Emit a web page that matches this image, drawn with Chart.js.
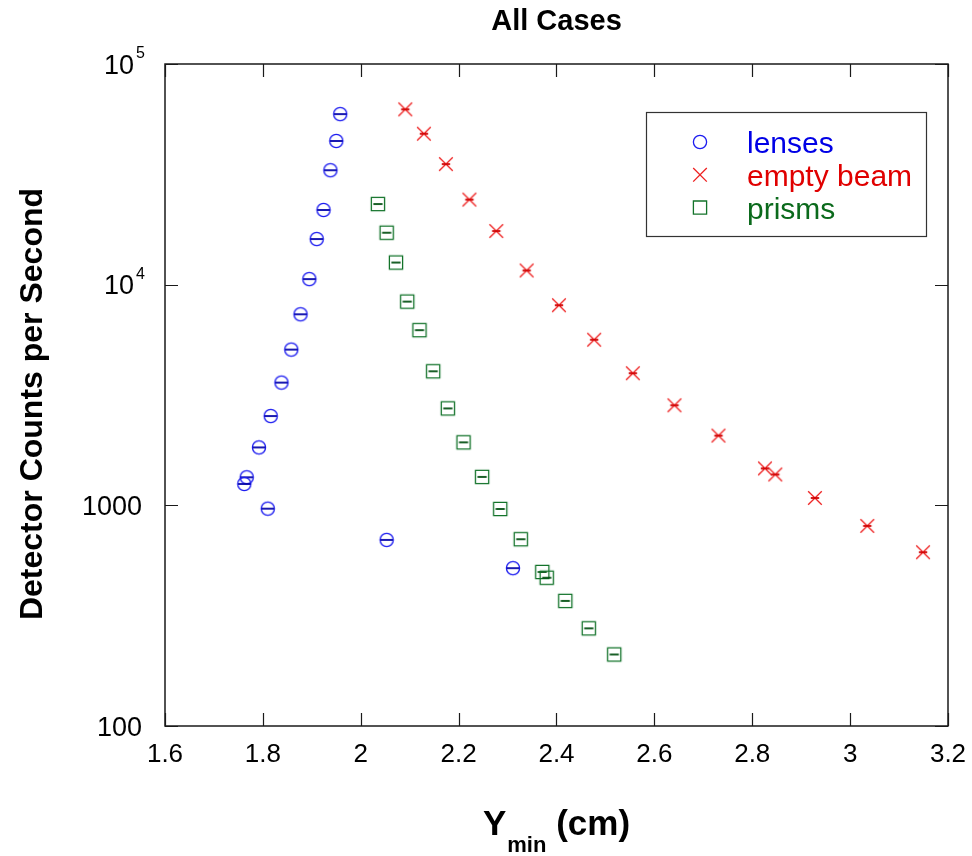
<!DOCTYPE html>
<html><head><meta charset="utf-8">
<script src="https://cdn.jsdelivr.net/npm/chart.js@4.4.1/dist/chart.umd.min.js"></script>
<style>html,body{margin:0;padding:0;background:#fff}#wrap{width:972px;height:856px}</style>
</head><body><div id="wrap"><canvas id="c" width="972" height="856"></canvas></div>
<script>
const chartTitle = 'All Cases';
const yAxisTitle = 'Detector Counts per Second';
const xAxisTitleMain = 'Y';
const xAxisTitleSub = 'min';
const xAxisTitleUnit = '(cm)';
const seriesNames = ['lenses', 'empty beam', 'prisms'];
const xTickValues = [1.6, 1.8, 2, 2.2, 2.4, 2.6, 2.8, 3, 3.2];
const yTickValues = [100, 1000, 10000, 100000];
const yTickBase = ['100', '1000', '10', '10'];
const yTickExp = ['', '', '4', '5'];

const lensesX = [1.958, 1.950, 1.938, 1.924, 1.910, 1.895, 1.877, 1.858, 1.838, 1.816, 1.792, 1.767, 1.762, 1.810, 2.053, 2.311];
const lensesY = [59300, 44800, 33000, 21800, 16100, 10600, 7340, 5080, 3600, 2540, 1830, 1340, 1250, 966, 697, 519];

const beamX = [2.091, 2.129, 2.174, 2.222, 2.277, 2.339, 2.405, 2.477, 2.556, 2.641, 2.731, 2.826, 2.847, 2.928, 3.035, 3.149];
const beamY = [62300, 48300, 35200, 24300, 17500, 11600, 8070, 5630, 3970, 2840, 2070, 1470, 1380, 1080, 807, 613];

const prismsX = [2.035, 2.053, 2.072, 2.095, 2.120, 2.148, 2.178, 2.210, 2.248, 2.285, 2.327, 2.371, 2.380, 2.418, 2.466, 2.518];
const prismsY = [23200, 17200, 12600, 8380, 6220, 4050, 2750, 1930, 1345, 963, 702, 499, 470, 369, 277, 211];

const FONT = '"Liberation Sans", Arial, Helvetica, sans-serif';
const BLUE = '#1c1cf0', BLUE_D = '#0000a8', BLUE_T = '#0000e6';
const RED = '#ee2020', RED_D = '#d00000', RED_T = '#e00000';
const GREEN = '#13732a', GREEN_D = '#004f10', GREEN_T = '#0b6a1c';

function drawShape(ctx, kind, cx, cy, color, darkColor, withBar) {
  ctx.save();
  ctx.strokeStyle = color;
  ctx.lineWidth = 1.3;
  ctx.beginPath();
  if (kind === 'circle') {
    ctx.arc(cx, cy, 6.6, 0, Math.PI * 2);
  } else if (kind === 'square') {
    ctx.rect(cx - 6.6, cy - 6.6, 13.2, 13.2);
  } else {
    ctx.moveTo(cx - 6.8, cy - 6.8); ctx.lineTo(cx + 6.8, cy + 6.8);
    ctx.moveTo(cx + 6.8, cy - 6.8); ctx.lineTo(cx - 6.8, cy + 6.8);
  }
  ctx.stroke();
  if (withBar) {
    ctx.strokeStyle = darkColor;
    ctx.lineWidth = 1.8;
    const w = kind === 'circle' ? 6.2 : (kind === 'square' ? 4.6 : 4.2);
    ctx.beginPath();
    ctx.moveTo(cx - w, cy); ctx.lineTo(cx + w, cy);
    ctx.stroke();
  }
  ctx.restore();
}
function makeMarker(kind, color, darkColor) {
  const c = document.createElement('canvas');
  c.width = 18; c.height = 18;
  drawShape(c.getContext('2d'), kind, 9, 9, color, darkColor, true);
  return c;
}
const toPts = (xs, ys) => xs.map((v, i) => ({x: v, y: ys[i]}));

const seriesStyle = [
  {kind: 'circle', color: BLUE, dark: BLUE_D, text: BLUE_T},
  {kind: 'x', color: RED, dark: RED_D, text: RED_T},
  {kind: 'square', color: GREEN, dark: GREEN_D, text: GREEN_T}
];

const decor = {
  id: 'decor',
  afterDraw(chart) {
    const {ctx, chartArea: a, scales: {x, y}} = chart;
    ctx.save();
    // frame
    ctx.strokeStyle = '#1a1a1a';
    ctx.lineWidth = 1.5;
    ctx.strokeRect(a.left, a.top, a.right - a.left, a.bottom - a.top);
    // inward ticks
    const tl = 13;
    ctx.lineWidth = 1.2;
    ctx.beginPath();
    xTickValues.forEach(v => {
      const px = Math.round(x.getPixelForValue(v)) + 0.5;
      ctx.moveTo(px, a.bottom); ctx.lineTo(px, a.bottom - tl);
      ctx.moveTo(px, a.top); ctx.lineTo(px, a.top + tl);
    });
    yTickValues.forEach(v => {
      const py = Math.round(y.getPixelForValue(v)) + 0.5;
      ctx.moveTo(a.left, py); ctx.lineTo(a.left + tl, py);
      ctx.moveTo(a.right, py); ctx.lineTo(a.right - tl, py);
    });
    ctx.stroke();

    // y tick labels
    ctx.fillStyle = '#000';
    ctx.textAlign = 'right';
    ctx.textBaseline = 'alphabetic';
    yTickValues.forEach((v, i) => {
      const py = y.getPixelForValue(v);
      if (yTickExp[i]) {
        ctx.font = '16px ' + FONT;
        ctx.fillText(yTickExp[i], a.left - 20, py - 6);
        ctx.font = '27px ' + FONT;
        ctx.fillText(yTickBase[i], a.left - 31, py + 9.7);
      } else {
        ctx.font = '27px ' + FONT;
        ctx.fillText(yTickBase[i], a.left - 23, py + 9.7);
      }
    });

    // chart title
    const cx = (a.left + a.right) / 2;
    ctx.textAlign = 'center';
    ctx.font = 'bold 29px ' + FONT;
    ctx.fillText(chartTitle, cx, 29.5);

    // y axis title
    ctx.save();
    ctx.translate(42, (a.top + a.bottom) / 2 + 9);
    ctx.rotate(-Math.PI / 2);
    ctx.font = 'bold 32px ' + FONT;
    ctx.textAlign = 'center';
    ctx.fillText(yAxisTitle, 0, 0);
    ctx.restore();

    // x axis title with subscript
    ctx.textAlign = 'left';
    ctx.font = 'bold 35px ' + FONT;
    const wMain = ctx.measureText(xAxisTitleMain).width;
    const wUnit = ctx.measureText(' ' + xAxisTitleUnit).width;
    ctx.font = 'bold 22px ' + FONT;
    const wSub = ctx.measureText(xAxisTitleSub).width;
    const total = wMain + 1 + wSub + wUnit;
    let sx = cx - total / 2;
    ctx.font = 'bold 35px ' + FONT;
    ctx.fillText(xAxisTitleMain, sx, 835);
    sx += wMain + 1;
    ctx.font = 'bold 22px ' + FONT;
    ctx.fillText(xAxisTitleSub, sx, 852);
    sx += wSub;
    ctx.font = 'bold 35px ' + FONT;
    ctx.fillText(' ' + xAxisTitleUnit, sx, 835);

    // legend box
    const lx = 646, ly = 112, lw = 280, lh = 124;
    ctx.strokeStyle = '#333';
    ctx.lineWidth = 1.2;
    ctx.strokeRect(lx + 0.5, ly + 0.5, lw, lh);
    ctx.font = '30px ' + FONT;
    ctx.textAlign = 'left';
    ctx.textBaseline = 'alphabetic';
    chart.data.datasets.forEach((ds, i) => {
      const st = seriesStyle[i];
      const rowY = 142 + i * 32.8;
      drawShape(ctx, st.kind, 700, rowY, st.color, st.dark, false);
      ctx.fillStyle = st.text;
      ctx.fillText(ds.label, 747, rowY + 11);
    });
    ctx.restore();
  }
};

new Chart(document.getElementById('c'), {
  type: 'scatter',
  data: {
    datasets: [
      {label: seriesNames[0], data: toPts(lensesX, lensesY), pointStyle: makeMarker('circle', BLUE, BLUE_D), pointRadius: 7, borderColor: BLUE, backgroundColor: BLUE},
      {label: seriesNames[1], data: toPts(beamX, beamY), pointStyle: makeMarker('x', RED, RED_D), pointRadius: 7, borderColor: RED, backgroundColor: RED},
      {label: seriesNames[2], data: toPts(prismsX, prismsY), pointStyle: makeMarker('square', GREEN, GREEN_D), pointRadius: 7, borderColor: GREEN, backgroundColor: GREEN}
    ]
  },
  options: {
    responsive: false,
    animation: false,
    layout: {padding: {top: 64, right: 24, left: 0, bottom: 0}},
    plugins: {legend: {display: false}, title: {display: false}, tooltip: {enabled: false}},
    scales: {
      x: {
        type: 'linear', min: 1.6, max: 3.2,
        afterBuildTicks: s => { s.ticks = xTickValues.map(v => ({value: v})); },
        afterFit: s => { s.height = 130; s.paddingLeft = 0; s.paddingRight = 0; },
        grid: {display: false},
        border: {display: false},
        ticks: {color: '#000', font: {family: FONT, size: 26}, padding: 5, maxRotation: 0, autoSkip: false,
          callback: v => String(+Number(v).toFixed(1))}
      },
      y: {
        type: 'logarithmic', min: 100, max: 100000,
        afterFit: s => { s.width = 165; s.paddingTop = 0; s.paddingBottom = 0; },
        grid: {display: false},
        border: {display: false},
        ticks: {display: false}
      }
    }
  },
  plugins: [decor]
});
</script>
</body></html>
